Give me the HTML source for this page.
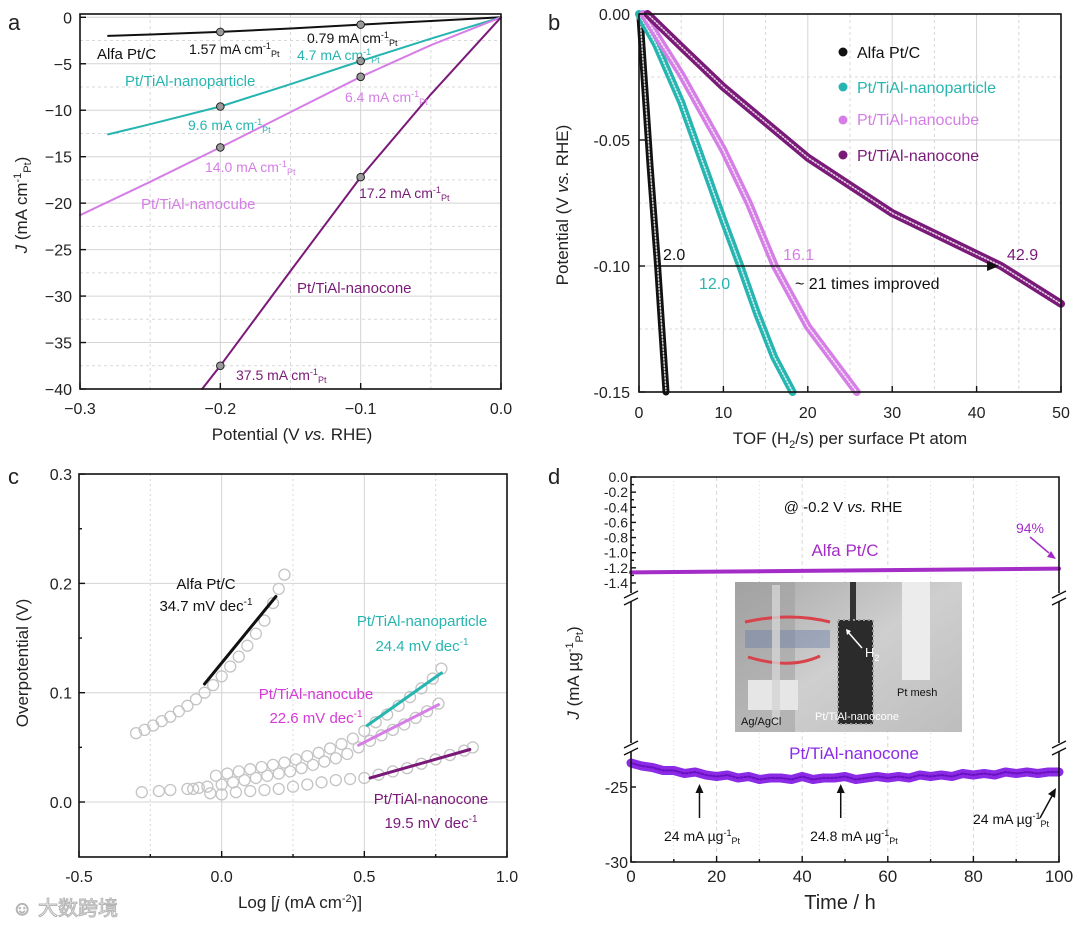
<!DOCTYPE html>
<html><head><meta charset="utf-8"><style>
html,body{margin:0;padding:0;background:#fff;}
svg{display:block;font-family:"Liberation Sans","Noto Sans CJK SC",sans-serif;}
</style></head><body>
<svg id="fig" width="1080" height="925" viewBox="0 0 1080 925" xmlns="http://www.w3.org/2000/svg">
<defs>
<linearGradient id="photoBg" x1="0" y1="0" x2="1" y2="1"><stop offset="0" stop-color="#a9a9a9"/><stop offset="0.5" stop-color="#cfcfcf"/><stop offset="1" stop-color="#bdbdbd"/></linearGradient>
</defs>
<g id="layer-grid"></g>
<g id="layer-data"></g>
<g id="layer-frame"></g>
<g id="layer-text" font-size="15" fill="#222">
  <text x="8" y="30" font-size="22">a</text>
  <text x="548" y="30" font-size="22">b</text>
  <text x="8" y="484" font-size="22">c</text>
  <text x="548" y="484" font-size="22">d</text>

  <text transform="translate(27,205) rotate(-90)" text-anchor="middle" font-size="17"><tspan font-style="italic">J</tspan> (mA cm<tspan dy="-6" font-size="11">-1</tspan><tspan dy="10" font-size="11">Pt</tspan><tspan dy="-4">)</tspan></text>
  <text x="292" y="440" text-anchor="middle" font-size="17">Potential (V <tspan font-style="italic">vs.</tspan> RHE)</text>
  <text x="97" y="59" font-size="15" fill="#111">Alfa Pt/C</text>
  <text x="189" y="54" font-size="14" fill="#111">1.57 mA cm<tspan dy="-5" font-size="9">-1</tspan><tspan dy="8" font-size="9">Pt</tspan></text>
  <text x="307" y="43" font-size="14" fill="#111">0.79 mA cm<tspan dy="-5" font-size="9">-1</tspan><tspan dy="8" font-size="9">Pt</tspan></text>
  <text x="297" y="60" font-size="14" fill="#26b5b0">4.7 mA cm<tspan dy="-5" font-size="9">-1</tspan><tspan dy="8" font-size="9">Pt</tspan></text>
  <text x="125" y="86" font-size="15" fill="#26b5b0">Pt/TiAl-nanoparticle</text>
  <text x="345" y="102" font-size="14" fill="#d57ee6">6.4 mA cm<tspan dy="-5" font-size="9">-1</tspan><tspan dy="8" font-size="9">Pt</tspan></text>
  <text x="188" y="130" font-size="14" fill="#26b5b0">9.6 mA cm<tspan dy="-5" font-size="9">-1</tspan><tspan dy="8" font-size="9">Pt</tspan></text>
  <text x="205" y="172" font-size="14" fill="#d57ee6">14.0 mA cm<tspan dy="-5" font-size="9">-1</tspan><tspan dy="8" font-size="9">Pt</tspan></text>
  <text x="141" y="209" font-size="15" fill="#d57ee6">Pt/TiAl-nanocube</text>
  <text x="359" y="198" font-size="14" fill="#7a1a78">17.2 mA cm<tspan dy="-5" font-size="9">-1</tspan><tspan dy="8" font-size="9">Pt</tspan></text>
  <text x="297" y="293" font-size="15" fill="#7a1a78">Pt/TiAl-nanocone</text>
  <text x="236" y="380" font-size="14" fill="#7a1a78">37.5 mA cm<tspan dy="-5" font-size="9">-1</tspan><tspan dy="8" font-size="9">Pt</tspan></text>

  <text transform="translate(568,205) rotate(-90)" text-anchor="middle" font-size="17">Potential (V <tspan font-style="italic">vs.</tspan> RHE)</text>
  <text x="850" y="444" text-anchor="middle" font-size="17">TOF (H<tspan dy="4" font-size="11">2</tspan><tspan dy="-4">/s) per surface Pt atom</tspan></text>
  <text x="857" y="58" font-size="16" fill="#111">Alfa Pt/C</text>
  <text x="857" y="93" font-size="16" fill="#26b5b0">Pt/TiAl-nanoparticle</text>
  <text x="857" y="125" font-size="16" fill="#d57ee6">Pt/TiAl-nanocube</text>
  <text x="857" y="161" font-size="16" fill="#7a1a78">Pt/TiAl-nanocone</text>
  <text x="663" y="260" font-size="16" fill="#111">2.0</text>
  <text x="699" y="289" font-size="16" fill="#26b5b0">12.0</text>
  <text x="783" y="260" font-size="16" fill="#d57ee6">16.1</text>
  <text x="795" y="289" font-size="16" fill="#111">~ 21 times improved</text>
  <text x="1007" y="260" font-size="16" fill="#7a1a78">42.9</text>

  <text transform="translate(28,663) rotate(-90)" text-anchor="middle" font-size="17">Overpotential (V)</text>
  <text x="300" y="908" text-anchor="middle" font-size="17">Log [<tspan font-style="italic">j</tspan> (mA cm<tspan dy="-6" font-size="11">-2</tspan><tspan dy="6">)]</tspan></text>
  <text x="206" y="589" text-anchor="middle" font-size="15" fill="#111">Alfa Pt/C</text>
  <text x="206" y="611" text-anchor="middle" font-size="15" fill="#111">34.7 mV dec<tspan dy="-6" font-size="10">-1</tspan></text>
  <text x="422" y="626" text-anchor="middle" font-size="15" fill="#26b5b0">Pt/TiAl-nanoparticle</text>
  <text x="422" y="651" text-anchor="middle" font-size="15" fill="#26b5b0">24.4 mV dec<tspan dy="-6" font-size="10">-1</tspan></text>
  <text x="316" y="699" text-anchor="middle" font-size="15" fill="#d63ad6">Pt/TiAl-nanocube</text>
  <text x="316" y="723" text-anchor="middle" font-size="15" fill="#d63ad6">22.6 mV dec<tspan dy="-6" font-size="10">-1</tspan></text>
  <text x="431" y="804" text-anchor="middle" font-size="15" fill="#7a1a78">Pt/TiAl-nanocone</text>
  <text x="431" y="828" text-anchor="middle" font-size="15" fill="#7a1a78">19.5 mV dec<tspan dy="-6" font-size="10">-1</tspan></text>
  <text x="12" y="915" font-size="20" fill="#f4f4f4" stroke="#b5b5b5" stroke-width="1">☺ 大数跨境</text>

  <text transform="translate(579,673) rotate(-90)" text-anchor="middle" font-size="17"><tspan font-style="italic">J</tspan> (mA µg<tspan dy="-6" font-size="11">-1</tspan><tspan dy="10" font-size="11">Pt</tspan><tspan dy="-4">)</tspan></text>
  <text x="840" y="909" text-anchor="middle" font-size="20">Time / h</text>
  <text x="843" y="512" text-anchor="middle" font-size="15" fill="#111">@ -0.2 V <tspan font-style="italic">vs.</tspan> RHE</text>
  <text x="845" y="556" text-anchor="middle" font-size="17" fill="#a32dc6">Alfa Pt/C</text>
  <text x="1030" y="533" text-anchor="middle" font-size="14" fill="#a32dc6">94%</text>
  <text x="854" y="759" text-anchor="middle" font-size="17" fill="#8b2be6">Pt/TiAl-nanocone</text>
  <text x="702" y="841" text-anchor="middle" font-size="14" fill="#111">24 mA µg<tspan dy="-5" font-size="9">-1</tspan><tspan dy="8" font-size="9">Pt</tspan></text>
  <text x="854" y="841" text-anchor="middle" font-size="14" fill="#111">24.8 mA µg<tspan dy="-5" font-size="9">-1</tspan><tspan dy="8" font-size="9">Pt</tspan></text>
  <text x="1011" y="824" text-anchor="middle" font-size="14" fill="#111">24 mA µg<tspan dy="-5" font-size="9">-1</tspan><tspan dy="8" font-size="9">Pt</tspan></text>
</g>

<g id="inset-photo">
  <rect x="735" y="582" width="227" height="150" fill="url(#photoBg)"/>
  <rect x="735" y="582" width="60" height="150" fill="#9c9c9c" opacity="0.5"/>
  <rect x="745" y="630" width="85" height="18" fill="#6d80a8" opacity="0.45"/>
  <path d="M745 622 Q790 612 830 622 M748 657 Q790 670 820 656" stroke="#d8424a" stroke-width="3" fill="none"/>
  <rect x="748" y="680" width="50" height="30" fill="#e6e6e6"/>
  <rect x="772" y="585" width="8" height="140" fill="#d5d5d5" opacity="0.8"/>
  <rect x="850" y="582" width="6" height="40" fill="#333"/>
  <rect x="838" y="620" width="35" height="104" fill="#2b2b2b" stroke="#9a9a9a" stroke-dasharray="2 3" stroke-width="2"/>
  <rect x="902" y="582" width="28" height="98" fill="#ececec"/>
  <path d="M862 648 L848 632" stroke="#fff" stroke-width="1.5"/>
  <path d="M846 629 l1 6 l4 -4 z" fill="#fff"/>
  <text x="865" y="657" font-size="13" fill="#fff">H<tspan dy="4" font-size="9">2</tspan></text>
  <text x="897" y="696" font-size="11" fill="#111">Pt mesh</text>
  <text x="741" y="725" font-size="11" fill="#111">Ag/AgCl</text>
  <text x="815" y="720" font-size="11" fill="#fff">Pt/TiAl-nanocone</text>
</g>
<g id="layer-over"></g>

<script>
// ---------- Panel a data ----------
const aAlfaX=[-0.28,-0.25,-0.2,-0.15,-0.1,-0.05,0];
const aAlfaJ=[-2.0,-1.85,-1.57,-1.2,-0.79,-0.4,0];
const aNpX=[-0.28,-0.25,-0.2,-0.15,-0.1,-0.05,0];
const aNpJ=[-12.6,-11.5,-9.6,-7.2,-4.7,-2.3,0];
const aCubeX=[-0.3,-0.25,-0.2,-0.15,-0.1,-0.05,0];
const aCubeJ=[-21.3,-17.7,-14.0,-10.2,-6.4,-3.0,0];
const aConeX=[-0.213,-0.2,-0.15,-0.1,-0.05,0];
const aConeJ=[-40,-37.5,-27.3,-17.2,-8.3,0];
const aMarkX=[-0.2,-0.1];
const aMarkAlfa=[-1.57,-0.79];
const aMarkNp=[-9.6,-4.7];
const aMarkCube=[-14.0,-6.4];
const aMarkCone=[-37.5,-17.2];
const aXTicks=[-0.3,-0.2,-0.1,0.0];
const aXTickLabels=["\u22120.3","\u22120.2","\u22120.1","0.0"];
const aYTicks=[0,-5,-10,-15,-20,-25,-30,-35,-40];
const aYTickLabels=["0","\u22125","\u221210","\u221215","\u221220","\u221225","\u221230","\u221235","\u221240"];

// ---------- Panel b data ----------
const bAlfaTof=[0.1,0.7,1.3,2.2,2.7,3.2];
const bAlfaPot=[0,-0.03,-0.06,-0.1,-0.125,-0.15];
const bNpTof=[0,2,5,8,10,12,14,16,18.2];
const bNpPot=[0,-0.012,-0.035,-0.063,-0.082,-0.1,-0.119,-0.136,-0.15];
const bCubeTof=[0.5,5,10,13,16.1,20,25.8];
const bCubePot=[0,-0.024,-0.054,-0.075,-0.1,-0.124,-0.15];
const bConeTof=[1,5,10,20,30,42.9,50];
const bConePot=[0,-0.013,-0.029,-0.057,-0.079,-0.1,-0.115];
const bXTicks=[0,10,20,30,40,50];
const bXTickLabels=["0","10","20","30","40","50"];
const bYTicks=[0,-0.05,-0.10,-0.15];
const bYTickLabels=["0.00","-0.05","-0.10","-0.15"];
const bArrowFrom=[2.0,-0.1];
const bArrowTo=[42.9,-0.1];

// ---------- Panel c data ----------
const cAlfaX=[-0.3,-0.27,-0.24,-0.21,-0.18,-0.15,-0.12,-0.09,-0.06,-0.03,0,0.03,0.06,0.09,0.12,0.15,0.18,0.2,0.22];
const cAlfaY=[0.063,0.066,0.07,0.074,0.078,0.083,0.088,0.094,0.1,0.107,0.115,0.124,0.133,0.143,0.154,0.166,0.182,0.195,0.208];
const cNpX=[-0.02,0.02,0.06,0.1,0.14,0.18,0.22,0.26,0.3,0.34,0.38,0.42,0.46,0.5,0.54,0.58,0.62,0.66,0.7,0.74,0.77];
const cNpY=[0.024,0.026,0.028,0.03,0.032,0.034,0.036,0.039,0.042,0.045,0.049,0.053,0.058,0.065,0.073,0.08,0.088,0.096,0.104,0.113,0.122];
const cCubeX=[-0.1,-0.05,0,0.04,0.08,0.12,0.16,0.2,0.24,0.28,0.32,0.36,0.4,0.44,0.48,0.52,0.56,0.6,0.64,0.68,0.72,0.76];
const cCubeY=[0.012,0.014,0.016,0.018,0.02,0.022,0.024,0.026,0.028,0.031,0.034,0.037,0.04,0.044,0.05,0.056,0.061,0.066,0.071,0.077,0.083,0.09];
const cConeX=[-0.28,-0.22,-0.18,-0.12,-0.08,-0.04,0,0.05,0.1,0.15,0.2,0.25,0.3,0.35,0.4,0.45,0.5,0.55,0.6,0.65,0.7,0.75,0.8,0.85,0.88];
const cConeY=[0.009,0.01,0.011,0.012,0.013,0.008,0.007,0.009,0.01,0.011,0.012,0.014,0.016,0.018,0.02,0.021,0.022,0.025,0.028,0.031,0.035,0.039,0.043,0.047,0.05];
const cFitAlfaX=[-0.06,0.19], cFitAlfaY=[0.108,0.188];
const cFitNpX=[0.51,0.77], cFitNpY=[0.07,0.118];
const cFitCubeX=[0.48,0.76], cFitCubeY=[0.052,0.089];
const cFitConeX=[0.52,0.87], cFitConeY=[0.022,0.048];
const cXTicks=[-0.5,0,0.5,1.0];
const cXTickLabels=["-0.5","0.0","0.5","1.0"];
const cYTicks=[0,0.1,0.2,0.3];
const cYTickLabels=["0.0","0.1","0.2","0.3"];

// ---------- Panel d data ----------
const dAlfaT=[0,20,40,60,80,100];
const dAlfaJ=[-1.26,-1.25,-1.24,-1.23,-1.22,-1.21];
const dConeT=[0,2.5,5,7.5,10,12.5,15,17.5,20,22.5,25,27.5,30,32.5,35,37.5,40,42.5,45,47.5,50,52.5,55,57.5,60,62.5,65,67.5,70,72.5,75,77.5,80,82.5,85,87.5,90,92.5,95,97.5,100];
const dConeJ=[-23.4,-23.6,-23.7,-23.9,-23.9,-24.1,-24.0,-24.2,-24.3,-24.2,-24.4,-24.3,-24.5,-24.4,-24.4,-24.5,-24.3,-24.5,-24.4,-24.4,-24.3,-24.5,-24.4,-24.3,-24.4,-24.3,-24.4,-24.2,-24.3,-24.2,-24.3,-24.1,-24.2,-24.1,-24.2,-24.0,-24.1,-24.0,-24.1,-24.0,-24.0];
const dXTicks=[0,20,40,60,80,100];
const dXTickLabels=["0","20","40","60","80","100"];
const dUpperTicks=[0,-0.2,-0.4,-0.6,-0.8,-1.0,-1.2,-1.4];
const dUpperTickLabels=["0.0","-0.2","-0.4","-0.6","-0.8","-1.0","-1.2","-1.4"];
const dLowerTicks=[-25,-30];
const dLowerTickLabels=["-25","-30"];
const dArrowT=[16,49];

const ax=v=>80+(v+0.3)/0.3*421;
const ay=v=>17.3-v/40*371.7;
const bx=v=>639+v/50*422;
const by=v=>14-v/0.15*378;
const cx=v=>79+(v+0.5)/1.5*428;
const cy=v=>802-v/0.1*109.3;
const dx=v=>631+v/100*428;
const dyU=v=>477-v/0.1*7.57;
const dyL=v=>787-(v+25)*15;

const NS='http://www.w3.org/2000/svg';
const G=document.getElementById('layer-grid');
const D=document.getElementById('layer-data');
const F=document.getElementById('layer-frame');
const T=document.getElementById('layer-text');
const O=document.getElementById('layer-over');
function mk(tag,attrs,parent){const e=document.createElementNS(NS,tag);for(const k in attrs)e.setAttribute(k,attrs[k]);parent.appendChild(e);return e;}
function pathOf(xs,ys,fx,fy){return xs.map((x,i)=>(i?'L':'M')+fx(x).toFixed(1)+' '+fy(ys[i]).toFixed(1)).join(' ');}

function frame(name,x0,y0,x1,y1){
  const r=mk('rect',{x:x0,y:y0,width:x1-x0,height:y1-y0,fill:'none',stroke:'#111','stroke-width':1.6},F);
  
  
}
function gridV(name,xp,y0,y1,dash){
  const l=mk('line',{x1:xp,x2:xp,y1:y0,y2:y1,stroke:dash?'#d8d8d8':'#d4d4d4','stroke-width':1,'stroke-dasharray':dash||'none'},G);
  
  
}
function gridH(name,yp,x0,x1,dash){
  const l=mk('line',{x1:x0,x2:x1,y1:yp,y2:yp,stroke:dash?'#d8d8d8':'#d4d4d4','stroke-width':1,'stroke-dasharray':dash||'none'},G);
  
  
}
function tick(name,x1,y1,x2,y2){
  const l=mk('line',{x1,y1,x2,y2,stroke:'#111','stroke-width':1.4},F);
  
  
}
function label(name,txt,x,y,anchor,size){
  const t=mk('text',{x,y,'text-anchor':anchor,'font-size':size,fill:'#222'},T);
  t.textContent=txt;
  
  
}
function series(name,d,color,w,parent){
  const p=mk('path',{d,fill:'none',stroke:color,'stroke-width':w,'stroke-linejoin':'round','stroke-linecap':'round'},parent||D);
  
  
  return p;
}

// ===== Panel a =====
[-0.3,-0.2,-0.1,0].forEach(v=>gridV('a-grid-x',ax(v),14,389));
[-0.25,-0.15,-0.05].forEach(v=>gridV('a-grid-x-minor',ax(v),14,389,'3 3'));
aYTicks.forEach(v=>gridH('a-grid-y',ay(v),80,501));
[-2.5,-7.5,-12.5,-17.5,-22.5,-27.5,-32.5,-37.5].forEach(v=>gridH('a-grid-y-minor',ay(v),80,501,'3 3'));
frame('a-plot-frame',80,14,501,389);
aXTicks.forEach((v,i)=>{tick('a-x-tick',ax(v),389,ax(v),383);label('a-x-tick-label',aXTickLabels[i],ax(v),414,'middle',16);});
aYTicks.forEach((v,i)=>{tick('a-y-tick',80,ay(v),86,ay(v));label('a-y-tick-label',aYTickLabels[i],72,ay(v)+6,'end',16);});
series('a-curve-alfa',pathOf(aAlfaX,aAlfaJ,ax,ay),'#111',2);
series('a-curve-nanoparticle',pathOf(aNpX,aNpJ,ax,ay),'#26b5b0',2);
series('a-curve-nanocube',pathOf(aCubeX,aCubeJ,ax,ay),'#d57ee6',2);
series('a-curve-nanocone',pathOf(aConeX,aConeJ,ax,ay),'#7a1a78',2);
[aMarkAlfa,aMarkNp,aMarkCube,aMarkCone].forEach(arr=>{
  arr.forEach((v,i)=>{
    const c=mk('circle',{cx:ax(aMarkX[i]),cy:ay(v),r:3.8,fill:'#9a9a9a',stroke:'#222','stroke-width':1},D);
    
    
  });
});

// ===== Panel b =====
[0,10,20,30,40,50].forEach(v=>gridV('b-grid-x',bx(v),14,392));
[5,15,25,35,45].forEach(v=>gridV('b-grid-x-minor',bx(v),14,392,'3 3'));
[0,-0.05,-0.1,-0.15].forEach(v=>gridH('b-grid-y',by(v),639,1061));
[-0.025,-0.075,-0.125].forEach(v=>gridH('b-grid-y-minor',by(v),639,1061,'3 3'));
frame('b-plot-frame',639,14,1061,392);
bXTicks.forEach((v,i)=>{tick('b-x-tick',bx(v),392,bx(v),386);label('b-x-tick-label',bXTickLabels[i],bx(v),418,'middle',16);});
bYTicks.forEach((v,i)=>{tick('b-y-tick',639,by(v),645,by(v));label('b-y-tick-label',bYTickLabels[i],630,by(v)+6,'end',16);});
[[bAlfaTof,bAlfaPot,'#111','alfa',7],[bNpTof,bNpPot,'#26b5b0','nanoparticle',8],[bCubeTof,bCubePot,'#d57ee6','nanocube',8],[bConeTof,bConePot,'#7a1a78','nanocone',8]].forEach(s=>{
  const d=pathOf(s[0],s[1],bx,by);
  series('b-curve-'+s[3],d,s[2],s[4]);
  const w=series('b-curve-'+s[3]+'-markers',d,'#fff',1.6);
  w.setAttribute('stroke-dasharray','1.2 2');
  w.setAttribute('opacity','0.8');
});
[['#111',52],['#26b5b0',87],['#d57ee6',120],['#7a1a78',155]].forEach(l=>{
  const c=mk('circle',{cx:843,cy:l[1],r:4.5,fill:l[0]},O);
  
  
});
const arr=mk('line',{x1:bx(bArrowFrom[0]),y1:by(bArrowFrom[1]),x2:bx(bArrowTo[0])-10,y2:by(bArrowTo[1]),stroke:'#111','stroke-width':1.5},O);


const ah=mk('path',{d:`M${bx(bArrowTo[0])-2} ${by(bArrowTo[1])} l-12 -5 l0 10 z`,fill:'#111'},O);



// ===== Panel c =====
[0,0.5].forEach(v=>gridV('c-grid-x',cx(v),474,857));
[-0.25,0.25,0.75].forEach(v=>gridV('c-grid-x-minor',cx(v),474,857,'2 3'));
[0,0.1,0.2].forEach(v=>gridH('c-grid-y',cy(v),79,507));
frame('c-plot-frame',79,474,507,857);
cXTicks.forEach((v,i)=>{tick('c-x-tick',cx(v),857,cx(v),851);label('c-x-tick-label',cXTickLabels[i],cx(v),882,'middle',16);});
[-0.25,0.25,0.75].forEach(v=>tick('c-x-minor-tick',cx(v),857,cx(v),854));
cYTicks.forEach((v,i)=>{tick('c-y-tick',79,cy(v),85,cy(v));label('c-y-tick-label',cYTickLabels[i],72,cy(v)+6,'end',16);});
[0.05,0.15,0.25].forEach(v=>tick('c-y-minor-tick',79,cy(v),82,cy(v)));
[[cAlfaX,cAlfaY],[cNpX,cNpY],[cCubeX,cCubeY],[cConeX,cConeY]].forEach(s=>{
  s[0].forEach((x,i)=>{
    const c=mk('circle',{cx:cx(x),cy:cy(s[1][i]),r:5.5,fill:'none',stroke:'#c4c4c4','stroke-width':1.3},D);
    
    
  });
});
series('c-fit-alfa',pathOf(cFitAlfaX,cFitAlfaY,cx,cy),'#111',3,O);
series('c-fit-nanoparticle',pathOf(cFitNpX,cFitNpY,cx,cy),'#26b5b0',3,O);
series('c-fit-nanocube',pathOf(cFitCubeX,cFitCubeY,cx,cy),'#d57ee6',3,O);
series('c-fit-nanocone',pathOf(cFitConeX,cFitConeY,cx,cy),'#7a1a78',3,O);

// ===== Panel d =====
[20,40,60,80].forEach(v=>{gridV('d-grid-x',dx(v),477,862,'4 3');});
[10,30,50,70,90].forEach(v=>{gridV('d-grid-x-minor',dx(v),477,862,'1 3');});
const dAxis=mk('path',{d:'M631 593 L631 477 L1059 477 L1059 593 M631 601 L631 743 M1059 601 L1059 743 M631 751 L631 862 L1059 862 L1059 751',fill:'none',stroke:'#111','stroke-width':1.6},F);


[[631,597],[1059,597],[631,747],[1059,747]].forEach(p=>{
  const b=mk('path',{d:`M${p[0]-7} ${p[1]+1} l14 -7 M${p[0]-7} ${p[1]+8} l14 -7`,stroke:'#111','stroke-width':1.4,fill:'none'},F);
  
  
});
dXTicks.forEach((v,i)=>{tick('d-x-tick',dx(v),862,dx(v),856);label('d-x-tick-label',dXTickLabels[i],dx(v),882,'middle',17);});
[10,30,50,70,90].forEach(v=>tick('d-x-minor-tick',dx(v),862,dx(v),859));
dUpperTicks.forEach((v,i)=>{tick('d-y-tick-upper',631,dyU(v),636,dyU(v));label('d-y-tick-label-upper',dUpperTickLabels[i],628,dyU(v)+5,'end',14);});
[-0.1,-0.3,-0.5,-0.7,-0.9,-1.1,-1.3].forEach(v=>tick('d-y-minor-tick',631,dyU(v),634,dyU(v)));
dLowerTicks.forEach((v,i)=>{tick('d-y-tick-lower',631,dyL(v),636,dyL(v));label('d-y-tick-label-lower',dLowerTickLabels[i],628,dyL(v)+6,'end',16);});
series('d-curve-alfa',pathOf(dAlfaT,dAlfaJ,dx,dyU),'#a32dc6',4);
series('d-curve-nanocone',pathOf(dConeT,dConeJ,dx,dyL),'#8b2be6',9);
const jit=series('d-curve-nanocone-noise',pathOf(dConeT,dConeJ,dx,dyL),'#6a10c0',2);
jit.setAttribute('stroke-dasharray','2 2');
dArrowT.forEach(t=>{
  const l=mk('line',{x1:dx(t),y1:818,x2:dx(t),y2:792,stroke:'#111','stroke-width':1.5},O);
  
  
  const h=mk('path',{d:`M${dx(t)} 784 l-4 9 l8 0 z`,fill:'#111'},O);
  
  
});
const a3=mk('line',{x1:1040,y1:818,x2:1052,y2:796,stroke:'#111','stroke-width':1.5},O);


const a3h=mk('path',{d:'M1056 788 l-8 6 l7 4 z',fill:'#111'},O);


const a4=mk('line',{x1:1030,y1:537,x2:1049,y2:553,stroke:'#a32dc6','stroke-width':1.5},O);


const a4h=mk('path',{d:'M1056 559 l-9 -2 l4 -6 z',fill:'#a32dc6'},O);


</script>
</svg>
</body></html>
